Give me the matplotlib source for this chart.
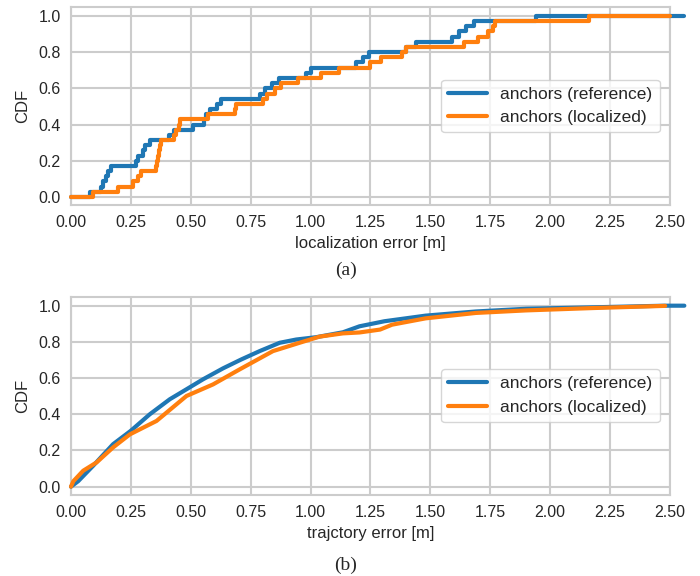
import matplotlib
matplotlib.use("Agg")
import matplotlib.pyplot as plt
import numpy as np
import seaborn as sns

# (a) localization error of the anchors, sorted samples (one CDF step each)
ref_anchor_err = [0.08, 0.125, 0.135, 0.145, 0.155, 0.165, 0.27, 0.28, 0.30, 0.31, 0.33,
                  0.41, 0.43, 0.51, 0.555, 0.565, 0.58, 0.61, 0.625, 0.79, 0.81, 0.84, 0.87,
                  0.98, 1.0, 1.19, 1.22, 1.245, 1.40, 1.44, 1.59, 1.62, 1.65, 1.68, 1.94]
loc_anchor_err = [0.093, 0.197, 0.26, 0.28, 0.294, 0.355, 0.36, 0.365, 0.368, 0.372, 0.375,
                  0.43, 0.44, 0.45, 0.455, 0.572, 0.683, 0.69, 0.80, 0.82, 0.85, 0.878,
                  0.947, 1.045, 1.12, 1.246, 1.295, 1.38, 1.40, 1.64, 1.70, 1.74, 1.76, 1.77, 2.16]
ref_anchor_end = 2.56
loc_anchor_end = 2.5

# (b) trajectory error CDF
traj_ref_x = [0.0, 0.03, 0.093, 0.176, 0.249, 0.329, 0.4125, 0.482, 0.551, 0.635, 0.711,
              0.7875, 0.871, 0.94, 1.024, 1.135, 1.204, 1.308, 1.48, 1.69, 1.9, 2.18, 2.48, 2.56]
traj_ref_y = [0.0, 0.03, 0.116, 0.235, 0.308, 0.40, 0.483, 0.538, 0.593, 0.654, 0.703,
              0.749, 0.795, 0.813, 0.826, 0.853, 0.886, 0.914, 0.945, 0.968, 0.983, 0.991, 1.0, 1.0]
traj_loc_x = [0.0, 0.01, 0.051, 0.107, 0.176, 0.246, 0.357, 0.482, 0.593, 0.704, 0.843,
              0.954, 1.0375, 1.135, 1.204, 1.29, 1.34, 1.48, 1.69, 1.9, 2.18, 2.48]
traj_loc_y = [0.0, 0.03, 0.088, 0.134, 0.217, 0.289, 0.363, 0.501, 0.565, 0.648, 0.749,
              0.795, 0.829, 0.847, 0.852, 0.868, 0.895, 0.93, 0.96, 0.974, 0.987, 0.999]

xticks = np.arange(0, 2.51, 0.25)
yticks = np.arange(0, 1.01, 0.2)

sns.set_style("whitegrid")
plt.rcParams['font.family'] = ['Liberation Sans', 'DejaVu Sans']

blue = '#1f77b4'
orange = '#ff7f0e'


def ecdf_xy(samples, end):
    n = len(samples)
    xs = [0.0] + list(samples) + [end]
    ys = [0.0] + [(i + 1) / n for i in range(n)] + [1.0]
    return xs, ys


def style_axis(ax, xlabel):
    ax.set_xlim(0, 2.5)
    ax.set_ylim(-0.045, 1.05)
    ax.set_xticks(xticks)
    ax.set_yticks(yticks)
    ax.set_xticklabels(['%.2f' % t for t in xticks])
    ax.set_yticklabels(['%.1f' % t for t in yticks])
    ax.tick_params(labelsize=11.5, colors='#262626', pad=4)
    ax.set_xlabel(xlabel, fontsize=12, color='#262626', labelpad=4)
    ax.set_ylabel('CDF', fontsize=12, color='#262626', labelpad=6)
    ax.grid(True, color='#cccccc', linewidth=1.5)
    for s in ax.spines.values():
        s.set_color('#cccccc')
        s.set_linewidth(1.5)
    ax.legend(loc='center right', fontsize=12.5, frameon=True, edgecolor='#cccccc',
              handlelength=2.2, borderaxespad=0.6)


fig = plt.figure(figsize=(7.0, 5.76), dpi=100)
ax1 = fig.add_axes([0.1014, 0.644, 0.8557, 0.344])
ax2 = fig.add_axes([0.1014, 0.141, 0.8557, 0.344])

x, y = ecdf_xy(ref_anchor_err, ref_anchor_end)
ax1.step(x, y, where='post', color=blue, lw=3, label='anchors (reference)', clip_on=False, zorder=3)
x, y = ecdf_xy(loc_anchor_err, loc_anchor_end)
ax1.step(x, y, where='post', color=orange, lw=3, label='anchors (localized)', clip_on=False, zorder=3)
style_axis(ax1, 'localization error [m]')

ax2.plot(traj_ref_x, traj_ref_y, color=blue, lw=3, label='anchors (reference)', clip_on=False, zorder=3)
ax2.plot(traj_loc_x, traj_loc_y, color=orange, lw=3, label='anchors (localized)', clip_on=False, zorder=3)
style_axis(ax2, 'trajctory error [m]')

fig.text(0.4943, 0.531, '(a)', ha='center', va='center', fontsize=14, family='Liberation Serif')
fig.text(0.4943, 0.019, '(b)', ha='center', va='center', fontsize=14, family='Liberation Serif')

fig.savefig('out.png', dpi=100)
